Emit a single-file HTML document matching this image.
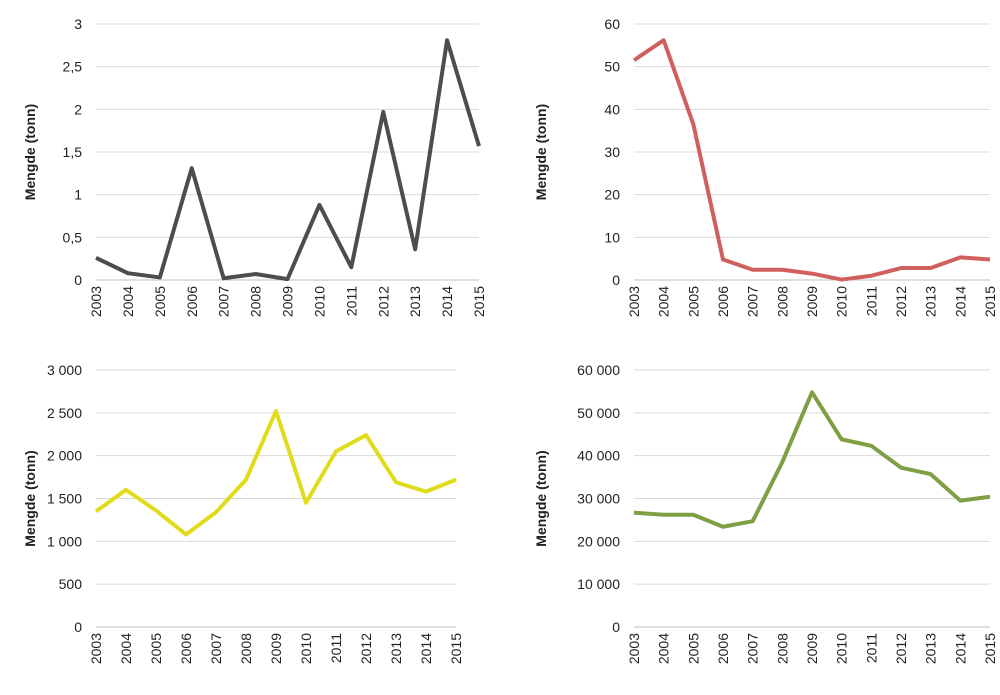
<!DOCTYPE html>
<html><head><meta charset="utf-8"><style>
body{margin:0;background:#fff;font-family:"Liberation Sans",Arial,sans-serif}
svg text{font-family:"Liberation Sans",Arial,sans-serif;fill:#222}
</style></head><body>
<svg id="c" width="1000" height="690" xmlns="http://www.w3.org/2000/svg"></svg>
<script>
const years=["2003","2004","2005","2006","2007","2008","2009","2010","2011","2012","2013","2014","2015"];
const seriesA=[0.26,0.08,0.03,1.31,0.02,0.07,0.01,0.88,0.15,1.97,0.36,2.81,1.57];
const seriesB=[51.5,56.2,36.5,4.8,2.4,2.4,1.5,0.1,1.0,2.8,2.8,5.3,4.8];
const seriesC=[1350,1600,1360,1080,1340,1720,2520,1450,2050,2240,1690,1580,1720];
const seriesD=[26700,26200,26200,23400,24700,38500,54800,43800,42300,37200,35700,29500,30400];
const ticksA=["0","0,5","1","1,5","2","2,5","3"];
const ticksB=["0","10","20","30","40","50","60"];
const ticksC=["0","500","1 000","1 500","2 000","2 500","3 000"];
const ticksD=["0","10 000","20 000","30 000","40 000","50 000","60 000"];
const maxA=3,maxB=60,maxC=3000,maxD=60000;
const NS="http://www.w3.org/2000/svg";
const svg=document.getElementById('c');
function mk(tag,attrs,parent){const e=document.createElementNS(NS,tag);for(const k in attrs)e.setAttribute(k,attrs[k]);(parent||svg).appendChild(e);return e;}
function chart(id,x0,x1,yTop,yBot,vals,ticks,max,color,titleX){
  const g=mk('g',{});
  
  
  const ys=v=>yBot-(v/max)*(yBot-yTop);
  const xs=i=>x0+i*(x1-x0)/(years.length-1);
  ticks.forEach((t,i)=>{
    const v=max*i/(ticks.length-1);const y=ys(v);
    const l=mk('line',{x1:x0,x2:x1,y1:y,y2:y,stroke:i==0?'#bfbfbf':'#d9d9d9','stroke-width':1},g);
    
    
    const tx=mk('text',{x:x0-14,y:y+5,'text-anchor':'end','font-size':14},g);
    tx.textContent=t;
    
    
  });
  years.forEach((yr,i)=>{
    const x=xs(i);
    const tx=mk('text',{transform:`translate(${x+5},${yBot+6}) rotate(-90)`,'text-anchor':'end','font-size':14},g);
    tx.textContent=yr;
    
    
  });
  const cy=(yTop+yBot)/2;
  const t=mk('text',{transform:`translate(${titleX},${cy}) rotate(-90)`,'text-anchor':'middle','font-size':14,'font-weight':'bold'},g);
  t.textContent='Mengde (tonn)';
  
  
  const p=mk('polyline',{points:vals.map((v,i)=>xs(i)+','+ys(v)).join(' '),fill:'none',stroke:color,'stroke-width':4,'stroke-linejoin':'round'},g);
  
  
}
chart('chart-top-left',96,479,24,280,seriesA,ticksA,maxA,'#4d4d4d',35);
chart('chart-top-right',634,990,24,280,seriesB,ticksB,maxB,'#d0605e',546);
chart('chart-bottom-left',96,456,370,627,seriesC,ticksC,maxC,'#e0dc1c',35);
chart('chart-bottom-right',634,990,370,627,seriesD,ticksD,maxD,'#7f9f45',546);
</script>
</body></html>
